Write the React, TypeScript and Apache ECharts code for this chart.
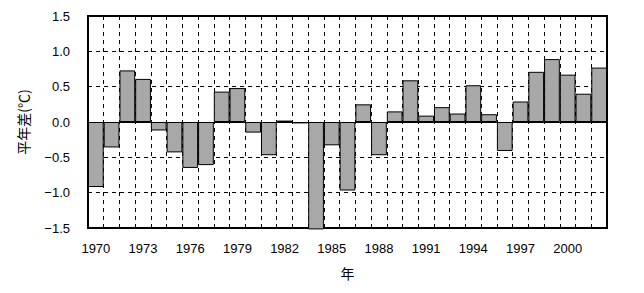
import React, { useEffect, useRef } from "react";
import * as echarts from "echarts";

const years: string[] = [
  "1970", "1971", "1972", "1973", "1974", "1975", "1976", "1977", "1978", "1979",
  "1980", "1981", "1982", "1983", "1984", "1985", "1986", "1987", "1988", "1989",
  "1990", "1991", "1992", "1993", "1994", "1995", "1996", "1997", "1998", "1999",
  "2000", "2001", "2002",
];
const anomalies: number[] = [
  -0.92, -0.36, 0.73, 0.61, -0.12, -0.43, -0.65, -0.61, 0.43, 0.48,
  -0.15, -0.47, 0.02, -0.02, -1.52, -0.33, -0.97, 0.25, -0.47, 0.15,
  0.59, 0.09, 0.21, 0.12, 0.52, 0.11, -0.41, 0.29, 0.71, 0.89,
  0.67, 0.4, 0.77,
];
const yTicks: number[] = [-1.5, -1.0, -0.5, 0.0, 0.5, 1.0, 1.5];

const FONT = "'Liberation Sans', Arial, sans-serif";
const CJK = "'Noto Sans CJK JP', sans-serif";

export default function App() {
  const ref = useRef<HTMLDivElement>(null);
  useEffect(() => {
    if (!ref.current) return;
    const chart = echarts.init(ref.current, undefined, { renderer: "svg" });
    chart.setOption({
      animation: false,
      backgroundColor: "#fff",
      grid: {
        left: 75,
        right: 29,
        top: 8,
        bottom: 54,
        show: true,
        borderColor: "#000",
        borderWidth: 2,
        backgroundColor: "transparent",
      },
      xAxis: {
        type: "category",
        data: years,
        boundaryGap: true,
        name: "年",
        nameLocation: "middle",
        nameGap: 38,
        nameTextStyle: { fontFamily: CJK, fontSize: 14, color: "#000" },
        axisLine: { show: false },
        axisTick: { show: false },
        axisLabel: {
          interval: 2,
          fontFamily: FONT,
          fontSize: 13,
          color: "#000",
          margin: 14,
        },
        splitLine: {
          show: true,
          interval: 0,
          lineStyle: { color: "#000", type: [4, 4], width: 1 },
        },
      },
      yAxis: {
        type: "value",
        min: yTicks[0],
        max: yTicks[yTicks.length - 1],
        interval: 0.5,
        name: "平年差(℃)",
        nameLocation: "middle",
        nameGap: 58,
        nameRotate: 90,
        nameTextStyle: { fontFamily: CJK, fontSize: 14, color: "#000" },
        axisLine: { show: false },
        axisTick: { show: false },
        axisLabel: {
          fontFamily: FONT,
          fontSize: 13,
          color: "#000",
          margin: 18,
          formatter: (v: number) => v.toFixed(1).replace("-", "\u2212"),
        },
        splitLine: {
          show: true,
          lineStyle: { color: "#000", type: [4, 4], width: 1 },
        },
      },
      series: [
        {
          type: "bar",
          data: anomalies,
          barWidth: "100%",
          barGap: "0%",
          clip: false,
          itemStyle: {
            color: "#a8a8a8",
            borderColor: "#000",
            borderWidth: 1,
          },
          markLine: {
            silent: true,
            symbol: "none",
            label: { show: false },
            lineStyle: { color: "#000", type: "solid", width: 1 },
            data: [{ yAxis: 0 }],
          },
        },
      ],
    });
    return () => chart.dispose();
  }, []);
  return <div ref={ref} style={{ width: 628, height: 277 }} />;
}
